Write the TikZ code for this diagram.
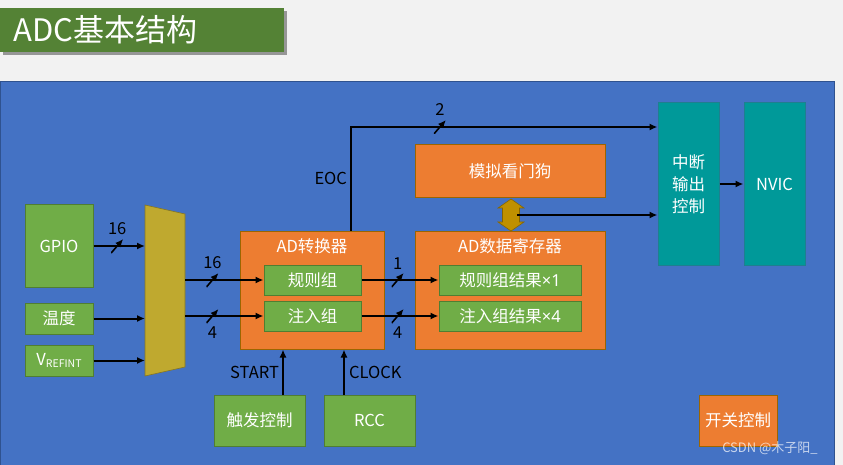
\documentclass[tikz,border=0pt]{standalone}
\usepackage{fontspec}
\setmainfont{Noto Sans CJK SC}
\newfontfamily\latinfont{Noto Sans}
\usetikzlibrary{arrows.meta,shadows}
\definecolor{pagegray}{HTML}{F2F2F2}
\definecolor{panelblue}{HTML}{4472C4}
\definecolor{panelline}{HTML}{2F528F}
\definecolor{titlegreen}{HTML}{548235}
\definecolor{boxgreen}{HTML}{70AD47}
\definecolor{boxgreenline}{HTML}{507E32}
\definecolor{boxorange}{HTML}{ED7D31}
\definecolor{boxorangeline}{HTML}{9C6500}
\definecolor{boxteal}{HTML}{009999}
\definecolor{boxtealline}{HTML}{1F7F8F}
\definecolor{muxgold}{HTML}{BFA92F}
\definecolor{wdgold}{HTML}{BF9000}
\begin{document}
\begin{tikzpicture}[
		x=1pt, y=-1pt,
		every node/.style={font=\fontsize{16.5}{19}\selectfont, inner sep=0pt},
		block/.style={draw, line width=1pt, text=white, align=center},
		greenbox/.style={block, fill=boxgreen, draw=boxgreenline},
		orangebox/.style={block, fill=boxorange, draw=boxorangeline},
		tealbox/.style={block, fill=boxteal, draw=boxtealline, font=\fontsize{16.5}{22}\selectfont},
		sig/.style={line width=2pt, -{Latex[length=8pt,width=7pt]}},
		busmark/.style={minimum width=12pt, minimum height=14pt,
				path picture={\draw[line width=1.6pt] (path picture bounding box.south west) -- (path picture bounding box.north east);}},
		buslabel/.style={label distance=2pt}
	]
	% page and panel
	\useasboundingbox[fill=pagegray] (0,0) rectangle (843,465);
	\fill[panelblue, draw=panelline, line width=1pt] (0,82) rectangle (834,466);
	\node[fill=titlegreen, minimum width=284, minimum height=44, anchor=north west,
		drop shadow={shadow xshift=3pt, shadow yshift=-3pt, fill=gray, opacity=.8}] (title) at (0,8) {};
	\node[text=white, font=\fontsize{31}{33}\selectfont, anchor=west] (titletext) at (13,30) {ADC基本结构};

	% inputs
	\node[greenbox, minimum width=68, minimum height=82] (gpio) at (59,246) {GPIO};
	\node[greenbox, minimum width=68, minimum height=31] (temp) at (59,318.5) {温度};
	\node[greenbox, minimum width=68, minimum height=31] (vref) at (59,360.5) {V\raisebox{-2pt}{\fontsize{10.5}{10}\selectfont REFINT}};

	% multiplexer
	\coordinate (muxtl) at (145,205);
	\coordinate (muxtr) at (185,214);
	\coordinate (muxbr) at (185,367);
	\coordinate (muxbl) at (145,376);
	\fill[muxgold, draw=muxgold!70!black, line width=.6pt] (muxtl) -- (muxtr) -- (muxbr) -- (muxbl) -- cycle;

	% converter and data register
	\node[orangebox, minimum width=144, minimum height=118] (adc) at (312,290) {};
	\node[text=white] (adctitle) at (312,246) {AD转换器};
	\node[greenbox, minimum width=97, minimum height=30] (regular) at (312.5,280) {规则组};
	\node[greenbox, minimum width=97, minimum height=30] (inject) at (312.5,316) {注入组};
	\node[orangebox, minimum width=190, minimum height=118] (dr) at (510,290) {};
	\node[text=white] (drtitle) at (510,246) {AD数据寄存器};
	\node[greenbox, minimum width=142, minimum height=30] (regres) at (510,280) {规则组结果{\latinfont×1}};
	\node[greenbox, minimum width=142, minimum height=30] (injres) at (510,316) {注入组结果{\latinfont×4}};
	\node[orangebox, minimum width=190, minimum height=53] (awd) at (510,171.5) {模拟看门狗};

	% interrupt side
	\node[tealbox, minimum width=61, minimum height=162] (intc) at (688.5,184) {中断\\输出\\控制};
	\node[tealbox, minimum width=61, minimum height=162] (nvic) at (774.5,184) {NVIC};

	% bottom blocks
	\node[greenbox, minimum width=91, minimum height=51] (trig) at (259.5,420.5) {触发控制};
	\node[greenbox, minimum width=91, minimum height=51] (rcc) at (369.5,420.5) {RCC};
	\node[orangebox, minimum width=78, minimum height=51] (sw) at (738,420.5) {开关控制};

	% watchdog link
	\fill[wdgold, draw=wdgold!70!black, line width=.6pt] (511,199) -- (524,208) -- (519.5,208) -- (519.5,222) -- (524,222)
		-- (511,231) -- (498,222) -- (502.5,222) -- (502.5,208) -- (498,208) -- cycle;
	\coordinate (wdj) at (517,215);
	\draw[sig] (wdj) -- (wdj -| intc.west);

	% signals
	\draw[sig] (gpio) -- node[busmark, pos=.46, label={[buslabel]above:16}] {} (gpio -| muxtl);
	\draw[sig] (temp) -- (temp -| muxtl);
	\draw[sig] (vref) -- (vref -| muxtl);
	\draw[sig] (muxtr |- regular) -- node[busmark, pos=.35, label={[buslabel]above:16}] {} (regular);
	\draw[sig] (muxtr |- inject) -- node[busmark, pos=.35, label={[buslabel]below:4}] {} (inject);
	\draw[sig] (regular) -- node[busmark, pos=.47, label={[buslabel]above:1}] {} (regres);
	\draw[sig] (inject) -- node[busmark, pos=.47, label={[buslabel]below:4}] {} (injres);
	\coordinate (eoc) at (351,127);
	\draw[sig] (eoc |- adc.north) -- node[pos=.5, left=3pt] {EOC} (eoc) -- node[busmark, pos=.29, label={[buslabel]above:2}] {} (eoc -| intc.west);
	\draw[sig] (intc) -- (nvic);
	\coordinate (startx) at (283,0);
	\coordinate (clockx) at (344,0);
	\draw[sig] (startx |- trig.north) -- node[left=3pt] {START} (startx |- adc.south);
	\draw[sig] (clockx |- rcc.north) -- node[right=4pt] {CLOCK} (clockx |- adc.south);

	% watermark
	\node[text=white, opacity=.7, font=\fontsize{13}{15}\selectfont] (mark) at (770,448) {CSDN @木子阳\_};
\end{tikzpicture}
\end{document}
